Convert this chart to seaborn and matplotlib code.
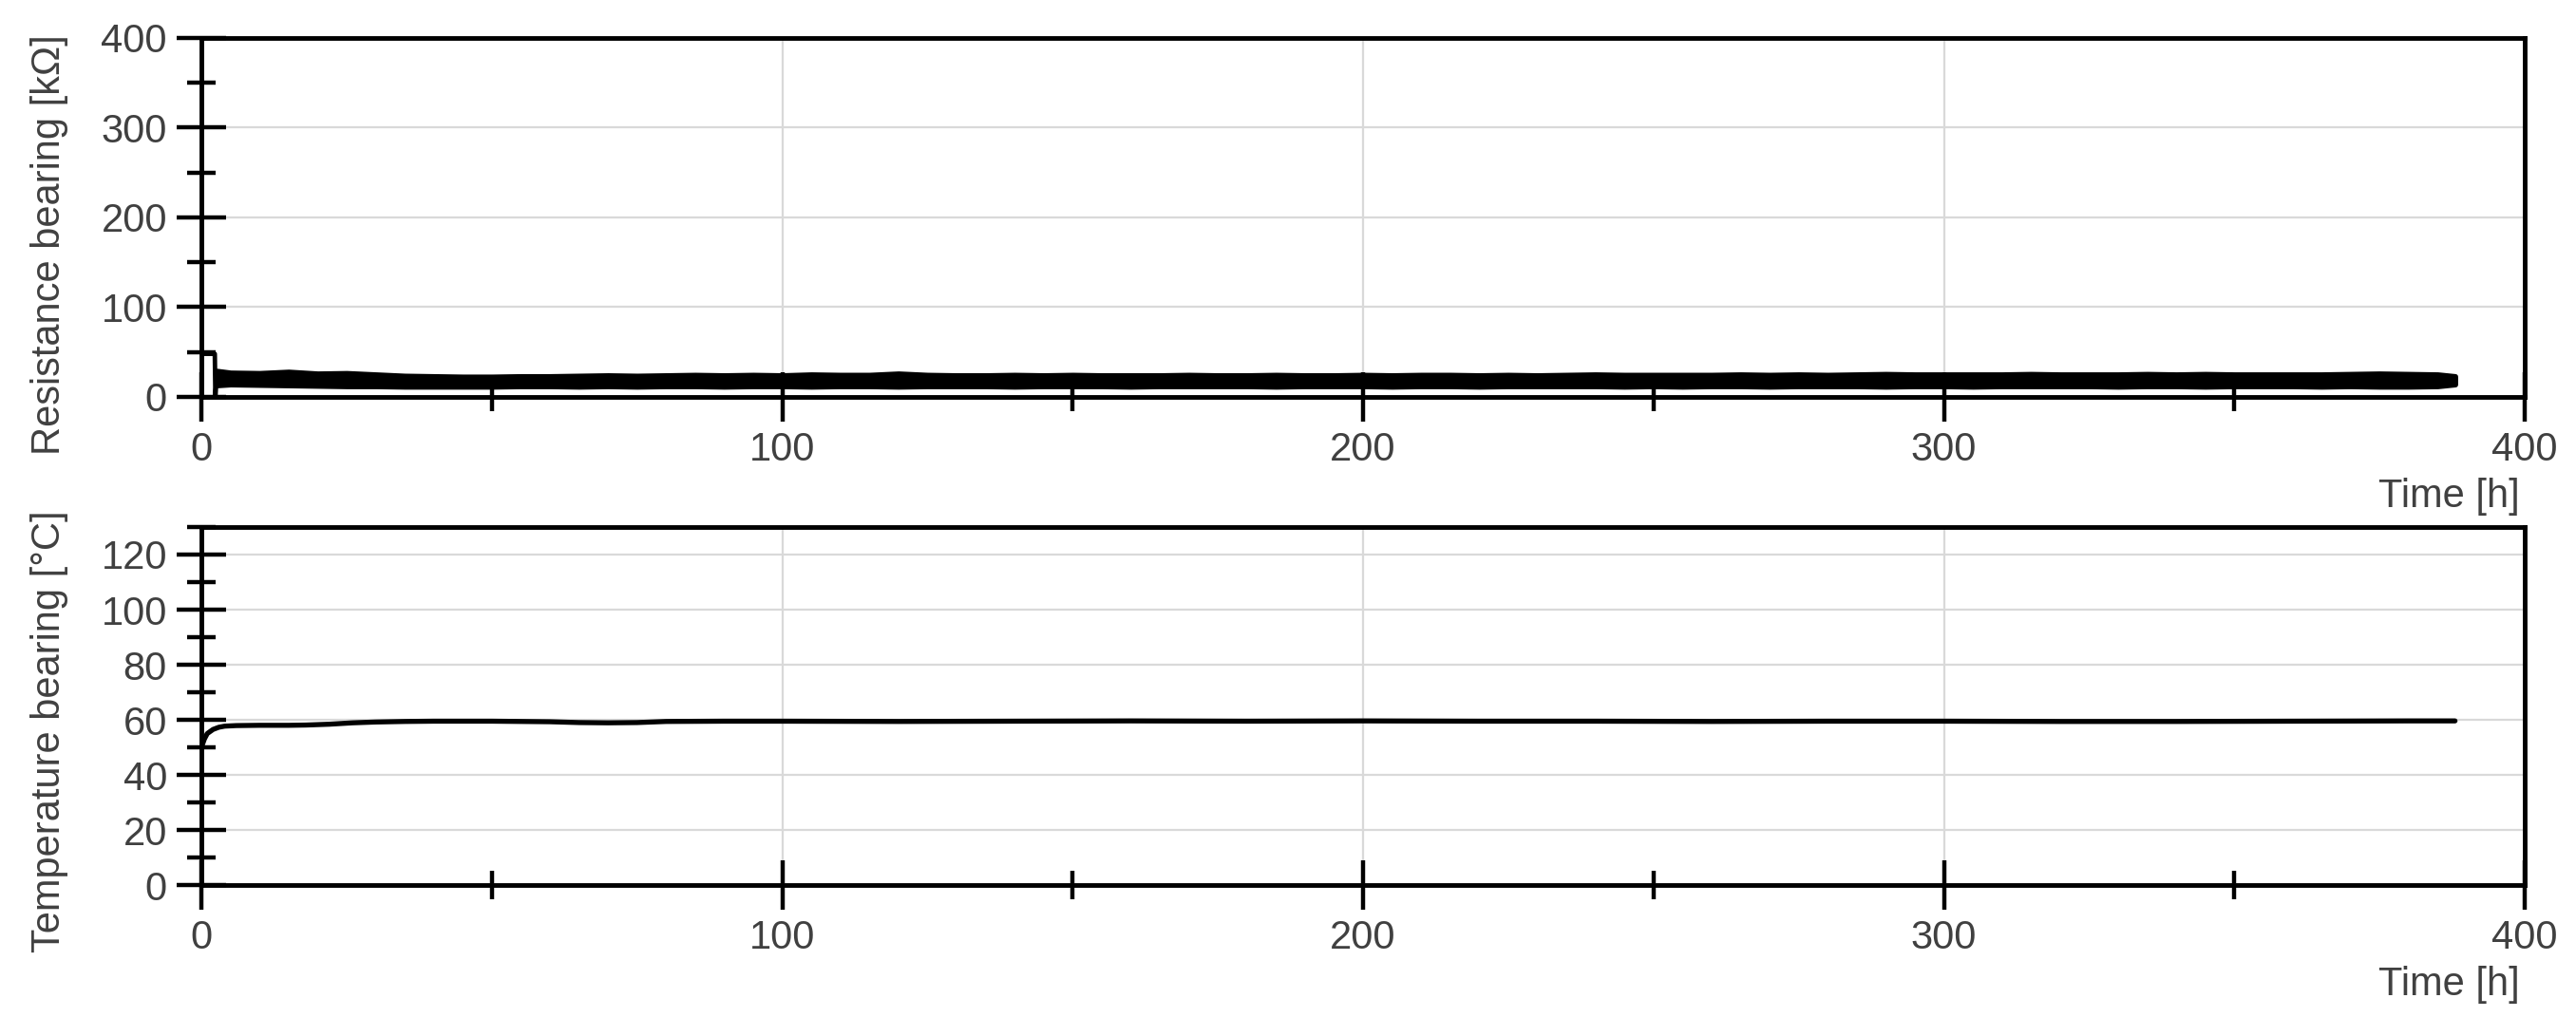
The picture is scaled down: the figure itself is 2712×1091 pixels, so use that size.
import numpy as np
import pandas as pd
import seaborn as sns
import matplotlib.pyplot as plt
from matplotlib.ticker import MultipleLocator

# resistance: start-up spike, then a noisy band (read as lower/upper envelope)
res_start_t = [0.0, 0.05, 2.3, 2.4, 2.6]
res_start_v = [0.0, 48.0, 48.0, 1.0, 20.0]
band_t = [2.6, 5, 10, 15, 20, 25, 30, 35, 40, 45, 50, 55, 60, 65, 70, 75, 80, 85, 90, 95,
          100, 105, 110, 115, 120, 125, 130, 135, 140, 145, 150, 155, 160, 165, 170, 175,
          180, 185, 190, 195, 200, 205, 210, 215, 220, 225, 230, 235, 240, 245, 250, 255,
          260, 265, 270, 275, 280, 285, 290, 295, 300, 305, 310, 315, 320, 325, 330, 335,
          340, 345, 350, 355, 360, 365, 370, 375, 380, 385, 388]
band_hi = [29, 27, 26.5, 28, 26, 26.5, 25, 23.5, 23, 22.5, 22.5, 23, 23, 23.5, 24, 23.5, 24, 24.5, 24, 24.5,
           24, 25, 24.5, 24.5, 26, 24.5, 24, 24, 24.5, 24, 24.5, 24, 24, 24, 24.5, 24,
           24, 24.5, 24, 24, 24.5, 24, 24.5, 24.5, 24, 24.5, 24, 24.5, 25, 24.5, 24.5, 24.5,
           24.5, 25, 24.5, 25, 24.5, 25, 25.5, 25, 25, 25, 25, 25.5, 25, 25, 25, 25.5,
           25, 25.5, 25, 25, 25, 25, 25.5, 26, 25.5, 25, 23]
band_lo = [13, 14, 13.5, 13, 12.5, 12, 12, 11.5, 11.5, 11.5, 11.5, 12, 12, 11.5, 12, 11.5, 12, 12, 11.5, 12,
           12, 11.5, 12, 12, 11.5, 12, 12, 12, 11.5, 12, 12, 12, 11.5, 12, 12, 12,
           12, 11.5, 12, 12, 12, 11.5, 12, 12, 11.5, 12, 12, 12, 12, 11.5, 12, 11.5,
           12, 12, 11.5, 12, 12, 12, 11.5, 12, 12, 11.5, 12, 12, 12, 12, 11.5, 12,
           12, 11.5, 12, 12, 12, 11.5, 12, 11.5, 11.5, 12, 14]

# bearing temperature
temp_t = [0, 0.5, 1, 2, 3, 4, 6, 10, 15, 18, 22, 26, 30, 35, 40, 50, 60, 65, 70, 75, 80, 90,
          100, 120, 140, 160, 180, 200, 220, 240, 260, 280, 300, 320, 340, 360, 380, 388]
temp_v = [50, 53, 55, 56.5, 57.3, 57.7, 57.9, 58, 58, 58.1, 58.4, 58.9, 59.2, 59.4, 59.5, 59.5,
          59.3, 59.0, 58.9, 59.0, 59.4, 59.5, 59.5, 59.4, 59.5, 59.6, 59.5, 59.6, 59.5, 59.5,
          59.4, 59.5, 59.5, 59.4, 59.4, 59.5, 59.6, 59.6]

res_start = pd.DataFrame({"t": res_start_t, "v": res_start_v})
temp = pd.DataFrame({"t": temp_t, "v": temp_v})

sns.set_theme(style="white")
plt.rcParams["font.family"] = ["Liberation Sans", "DejaVu Sans"]
txt = "#404040"
fs = 30

fig = plt.figure(figsize=(27.12, 10.91), dpi=100)
ax1 = fig.add_axes([0.0782, 0.6169, 0.9019, 0.3465])
ax2 = fig.add_axes([0.0782, 0.1457, 0.9019, 0.3456])

# top panel
ax1.fill_between(band_t, band_lo, band_hi, color="black", lw=4, zorder=3)
sns.lineplot(data=res_start, x="t", y="v", ax=ax1, color="black", lw=3.4,
             sort=False, estimator=None, zorder=3)
# bottom panel
sns.lineplot(data=temp, x="t", y="v", ax=ax2, color="black", lw=3.8,
             sort=False, estimator=None, zorder=3, solid_capstyle="round")

setup = [(ax1, 400, 100, 50, "Resistance bearing [k\u03a9]", 0.423),
         (ax2, 130, 20, 10, "Temperature bearing [\u00b0C]", 0.43)]
for ax, ymax, ymaj, ymin, ylab, ylab_y in setup:
    ax.set_xlim(0, 400)
    ax.set_ylim(0, ymax)
    ax.xaxis.set_major_locator(MultipleLocator(100))
    ax.xaxis.set_minor_locator(MultipleLocator(50))
    ax.yaxis.set_major_locator(MultipleLocator(ymaj))
    ax.yaxis.set_minor_locator(MultipleLocator(ymin))
    ax.grid(True, which="major", color="#d9d9d9", lw=1.6, zorder=0)
    ax.set_axisbelow(True)
    for s in ax.spines.values():
        s.set_color("black")
        s.set_linewidth(3.5)
        s.set_visible(True)
    ax.tick_params(which="major", direction="inout", length=38, width=3.2, color="black",
                   labelsize=fs, labelcolor=txt, pad=7,
                   bottom=True, left=True, top=False, right=False)
    ax.tick_params(which="minor", direction="inout", length=21, width=3.2, color="black",
                   bottom=True, left=True, top=False, right=False)
    ax.set_xlabel("Time [h]", fontsize=fs, color=txt, ha="right", va="top")
    ax.xaxis.set_label_coords(0.998, -0.225)
    ax.set_ylabel(ylab, fontsize=fs, color=txt, va="center", ha="center")
    ax.yaxis.set_label_coords(-0.0655, ylab_y)

fig.savefig("out.png", dpi=100)
